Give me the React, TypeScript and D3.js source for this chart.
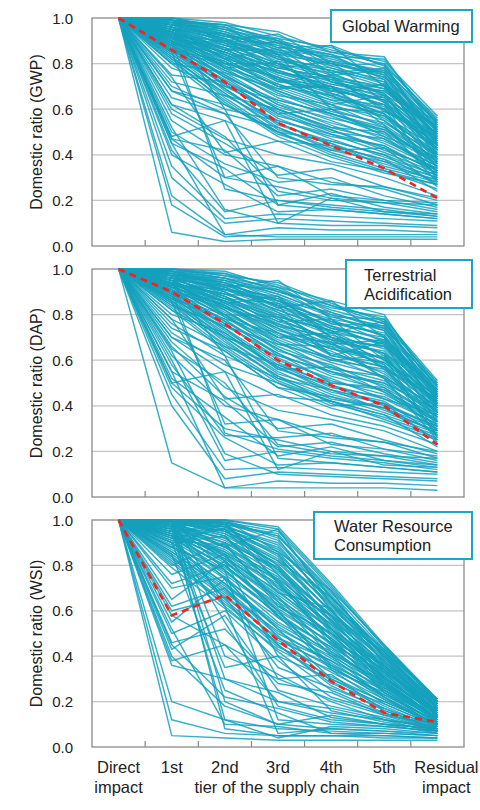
import * as d3 from 'd3';

const tiers = ['Direct impact', '1st', '2nd', '3rd', '4th', '5th', 'Residual impact'];
const yTicks = [0, 0.2, 0.4, 0.6, 0.8, 1.0];

// mean curves (red dashed)
const meanGWP = [1, 0.86, 0.72, 0.54, 0.44, 0.34, 0.21];
const meanDAP = [1, 0.9, 0.76, 0.6, 0.49, 0.4, 0.23];
const meanWSI = [1, 0.58, 0.67, 0.47, 0.29, 0.15, 0.11];

// individual sectors
const linesGWP = [
  [1, 1.0, 0.98, 0.92, 0.86, 0.81, 0.57],
  [1, 0.99, 0.97, 0.9, 0.85, 0.8, 0.55],
  [1, 0.99, 0.95, 0.89, 0.84, 0.78, 0.54],
  [1, 0.98, 0.94, 0.88, 0.82, 0.76, 0.52],
  [1, 0.98, 0.93, 0.86, 0.8, 0.75, 0.51],
  [1, 0.97, 0.92, 0.85, 0.79, 0.72, 0.5],
  [1, 0.97, 0.91, 0.83, 0.77, 0.7, 0.48],
  [1, 0.96, 0.9, 0.82, 0.75, 0.69, 0.47],
  [1, 0.96, 0.88, 0.8, 0.74, 0.67, 0.46],
  [1, 0.95, 0.87, 0.79, 0.72, 0.65, 0.45],
  [1, 0.95, 0.86, 0.77, 0.7, 0.64, 0.44],
  [1, 0.94, 0.85, 0.76, 0.69, 0.62, 0.43],
  [1, 0.94, 0.84, 0.74, 0.67, 0.6, 0.42],
  [1, 0.93, 0.83, 0.73, 0.66, 0.58, 0.41],
  [1, 0.93, 0.82, 0.71, 0.64, 0.57, 0.4],
  [1, 0.92, 0.81, 0.7, 0.62, 0.55, 0.39],
  [1, 0.92, 0.8, 0.68, 0.6, 0.53, 0.38],
  [1, 0.91, 0.79, 0.67, 0.58, 0.51, 0.37],
  [1, 0.9, 0.78, 0.65, 0.57, 0.49, 0.36],
  [1, 0.9, 0.76, 0.63, 0.55, 0.47, 0.35],
  [1, 0.89, 0.75, 0.62, 0.53, 0.45, 0.34],
  [1, 0.88, 0.74, 0.6, 0.51, 0.43, 0.33],
  [1, 0.87, 0.72, 0.58, 0.49, 0.41, 0.32],
  [1, 0.86, 0.71, 0.56, 0.47, 0.39, 0.31],
  [1, 0.85, 0.69, 0.54, 0.45, 0.37, 0.3],
  [1, 0.84, 0.67, 0.52, 0.43, 0.36, 0.29],
  [1, 0.83, 0.65, 0.5, 0.41, 0.34, 0.28],
  [1, 0.82, 0.63, 0.48, 0.39, 0.32, 0.27],
  [1, 0.99, 0.9, 0.93, 0.8, 0.74, 0.53],
  [1, 0.97, 0.96, 0.84, 0.88, 0.7, 0.49],
  [1, 0.92, 0.86, 0.9, 0.76, 0.78, 0.46],
  [1, 0.96, 0.82, 0.87, 0.72, 0.68, 0.52],
  [1, 0.88, 0.9, 0.78, 0.81, 0.63, 0.44],
  [1, 0.94, 0.78, 0.81, 0.66, 0.71, 0.42],
  [1, 0.91, 0.87, 0.72, 0.75, 0.59, 0.5],
  [1, 0.85, 0.8, 0.74, 0.62, 0.66, 0.4],
  [1, 0.8, 0.76, 0.69, 0.7, 0.55, 0.37],
  [1, 0.78, 0.7, 0.64, 0.58, 0.52, 0.35],
  [1, 0.75, 0.72, 0.58, 0.6, 0.48, 0.33],
  [1, 0.72, 0.66, 0.6, 0.52, 0.5, 0.31],
  [1, 0.7, 0.6, 0.55, 0.49, 0.44, 0.29],
  [1, 0.68, 0.62, 0.5, 0.46, 0.4, 0.27],
  [1, 0.65, 0.58, 0.52, 0.42, 0.43, 0.26],
  [1, 0.62, 0.55, 0.46, 0.44, 0.38, 0.24],
  [1, 0.6, 0.47, 0.4, 0.36, 0.3, 0.22],
  [1, 0.58, 0.45, 0.31, 0.34, 0.26, 0.2],
  [1, 0.55, 0.4, 0.35, 0.28, 0.25, 0.18],
  [1, 0.5, 0.36, 0.28, 0.3, 0.22, 0.17],
  [1, 0.47, 0.42, 0.22, 0.25, 0.2, 0.16],
  [1, 0.47, 0.3, 0.26, 0.21, 0.19, 0.15],
  [1, 0.45, 0.34, 0.18, 0.23, 0.17, 0.14],
  [1, 0.42, 0.15, 0.2, 0.18, 0.16, 0.13],
  [1, 0.4, 0.27, 0.15, 0.16, 0.14, 0.12],
  [1, 0.35, 0.12, 0.14, 0.13, 0.12, 0.11],
  [1, 0.3, 0.1, 0.12, 0.11, 0.1, 0.09],
  [1, 0.22, 0.05, 0.08, 0.07, 0.07, 0.06],
  [1, 0.18, 0.04, 0.05, 0.05, 0.05, 0.05],
  [1, 0.06, 0.02, 0.03, 0.03, 0.03, 0.03],
  [1, 0.52, 0.16, 0.1, 0.09, 0.09, 0.08],
  [1, 0.45, 0.05, 0.04, 0.04, 0.04, 0.04],
  [1, 0.48, 0.55, 0.1, 0.21, 0.15, 0.14],
  [1, 0.62, 0.48, 0.24, 0.2, 0.19, 0.18],
  [1, 0.68, 0.58, 0.3, 0.27, 0.26, 0.21],
  [1, 0.74, 0.41, 0.46, 0.37, 0.33, 0.25],
  [1, 0.9, 0.25, 0.2, 0.17, 0.15, 0.13],
  [1, 0.85, 0.3, 0.35, 0.22, 0.2, 0.19],
  [1, 0.95, 0.6, 0.18, 0.16, 0.14, 0.12],
  [1, 0.99, 0.96, 0.91, 0.87, 0.79, 0.56],
  [1, 0.98, 0.97, 0.89, 0.83, 0.82, 0.53],
  [1, 1.0, 0.95, 0.9, 0.81, 0.77, 0.55],
  [1, 0.97, 0.93, 0.87, 0.84, 0.73, 0.5],
  [1, 0.99, 0.94, 0.84, 0.8, 0.76, 0.54],
  [1, 0.96, 0.92, 0.88, 0.78, 0.71, 0.49],
  [1, 0.98, 0.89, 0.85, 0.81, 0.74, 0.51],
  [1, 0.95, 0.91, 0.81, 0.77, 0.72, 0.48],
  [1, 0.97, 0.88, 0.83, 0.73, 0.69, 0.52],
  [1, 0.94, 0.89, 0.8, 0.76, 0.66, 0.47],
  [1, 0.96, 0.86, 0.78, 0.74, 0.7, 0.45],
  [1, 0.93, 0.87, 0.79, 0.71, 0.68, 0.49],
  [1, 0.95, 0.84, 0.76, 0.73, 0.63, 0.44],
  [1, 0.92, 0.85, 0.75, 0.68, 0.65, 0.46],
  [1, 0.94, 0.82, 0.77, 0.7, 0.61, 0.43],
  [1, 0.91, 0.83, 0.72, 0.69, 0.62, 0.42],
  [1, 0.93, 0.8, 0.74, 0.65, 0.6, 0.45],
  [1, 0.9, 0.82, 0.7, 0.66, 0.56, 0.41],
  [1, 0.92, 0.78, 0.71, 0.63, 0.58, 0.39],
  [1, 0.89, 0.79, 0.69, 0.61, 0.57, 0.43],
  [1, 0.91, 0.77, 0.66, 0.62, 0.52, 0.38],
  [1, 0.88, 0.77, 0.68, 0.59, 0.54, 0.4],
  [1, 0.9, 0.74, 0.64, 0.58, 0.5, 0.37],
  [1, 0.87, 0.75, 0.62, 0.56, 0.51, 0.36],
  [1, 0.89, 0.72, 0.61, 0.54, 0.48, 0.39],
  [1, 0.86, 0.73, 0.6, 0.52, 0.46, 0.35],
  [1, 0.88, 0.7, 0.59, 0.5, 0.47, 0.33],
  [1, 0.85, 0.71, 0.57, 0.51, 0.42, 0.34],
  [1, 0.87, 0.68, 0.55, 0.48, 0.44, 0.32],
  [1, 0.84, 0.69, 0.53, 0.46, 0.4, 0.31],
  [1, 0.83, 0.66, 0.54, 0.44, 0.38, 0.3],
  [1, 0.82, 0.67, 0.51, 0.45, 0.35, 0.29],
  [1, 0.81, 0.64, 0.49, 0.42, 0.37, 0.28],
  [1, 0.8, 0.62, 0.5, 0.4, 0.33, 0.27],
  [1, 0.99, 0.97, 0.94, 0.85, 0.83, 0.5],
  [1, 1.0, 0.96, 0.87, 0.88, 0.79, 0.47],
  [1, 0.98, 0.92, 0.91, 0.79, 0.8, 0.44],
  [1, 0.97, 0.95, 0.86, 0.83, 0.75, 0.42],
  [1, 0.96, 0.9, 0.89, 0.75, 0.77, 0.4],
  [1, 0.95, 0.93, 0.82, 0.78, 0.73, 0.38],
  [1, 0.93, 0.88, 0.84, 0.72, 0.67, 0.36],
  [1, 0.94, 0.86, 0.86, 0.68, 0.64, 0.34],
  [1, 0.91, 0.85, 0.78, 0.74, 0.6, 0.32],
  [1, 0.9, 0.8, 0.8, 0.67, 0.58, 0.3],
  [1, 0.89, 0.84, 0.73, 0.64, 0.62, 0.29],
  [1, 0.86, 0.81, 0.7, 0.7, 0.53, 0.28],
  [1, 0.97, 0.91, 0.76, 0.71, 0.66, 0.55],
  [1, 0.95, 0.89, 0.73, 0.7, 0.64, 0.53],
  [1, 0.99, 0.93, 0.8, 0.68, 0.71, 0.51],
  [1, 0.92, 0.9, 0.84, 0.6, 0.59, 0.48],
];

const linesDAP = [
  [1, 1.0, 0.98, 0.93, 0.84, 0.78, 0.51],
  [1, 1.0, 0.97, 0.91, 0.82, 0.76, 0.5],
  [1, 0.99, 0.96, 0.89, 0.8, 0.75, 0.48],
  [1, 0.99, 0.95, 0.88, 0.79, 0.73, 0.47],
  [1, 0.98, 0.94, 0.86, 0.77, 0.71, 0.46],
  [1, 0.98, 0.92, 0.84, 0.75, 0.69, 0.45],
  [1, 0.97, 0.91, 0.82, 0.73, 0.67, 0.44],
  [1, 0.97, 0.9, 0.8, 0.71, 0.65, 0.43],
  [1, 0.96, 0.88, 0.78, 0.69, 0.63, 0.42],
  [1, 0.96, 0.87, 0.76, 0.67, 0.61, 0.41],
  [1, 0.95, 0.86, 0.74, 0.65, 0.59, 0.4],
  [1, 0.95, 0.84, 0.72, 0.63, 0.57, 0.39],
  [1, 0.94, 0.83, 0.7, 0.61, 0.55, 0.38],
  [1, 0.94, 0.82, 0.68, 0.59, 0.53, 0.37],
  [1, 0.93, 0.8, 0.66, 0.57, 0.51, 0.36],
  [1, 0.92, 0.79, 0.65, 0.55, 0.49, 0.35],
  [1, 0.91, 0.77, 0.63, 0.53, 0.47, 0.34],
  [1, 0.9, 0.76, 0.61, 0.51, 0.45, 0.33],
  [1, 0.89, 0.74, 0.59, 0.49, 0.43, 0.32],
  [1, 0.88, 0.72, 0.57, 0.47, 0.41, 0.31],
  [1, 0.87, 0.7, 0.55, 0.45, 0.39, 0.3],
  [1, 0.86, 0.68, 0.53, 0.44, 0.37, 0.29],
  [1, 0.85, 0.66, 0.51, 0.42, 0.36, 0.28],
  [1, 0.99, 0.92, 0.95, 0.78, 0.74, 0.49],
  [1, 0.96, 0.95, 0.83, 0.86, 0.7, 0.46],
  [1, 0.93, 0.89, 0.87, 0.72, 0.77, 0.44],
  [1, 0.97, 0.85, 0.88, 0.7, 0.66, 0.47],
  [1, 0.9, 0.86, 0.77, 0.78, 0.6, 0.41],
  [1, 0.95, 0.8, 0.79, 0.62, 0.68, 0.4],
  [1, 0.92, 0.84, 0.7, 0.72, 0.56, 0.43],
  [1, 0.87, 0.78, 0.72, 0.6, 0.62, 0.37],
  [1, 0.84, 0.75, 0.67, 0.66, 0.52, 0.35],
  [1, 0.82, 0.7, 0.62, 0.55, 0.5, 0.33],
  [1, 0.8, 0.72, 0.56, 0.57, 0.46, 0.31],
  [1, 0.78, 0.66, 0.58, 0.5, 0.48, 0.29],
  [1, 0.76, 0.62, 0.52, 0.47, 0.42, 0.27],
  [1, 0.74, 0.64, 0.48, 0.44, 0.39, 0.25],
  [1, 0.72, 0.58, 0.5, 0.4, 0.41, 0.24],
  [1, 0.7, 0.55, 0.44, 0.42, 0.36, 0.22],
  [1, 0.68, 0.48, 0.38, 0.34, 0.29, 0.2],
  [1, 0.66, 0.44, 0.3, 0.32, 0.25, 0.19],
  [1, 0.62, 0.4, 0.34, 0.27, 0.24, 0.17],
  [1, 0.58, 0.27, 0.26, 0.28, 0.21, 0.16],
  [1, 0.55, 0.42, 0.22, 0.24, 0.19, 0.15],
  [1, 0.5, 0.3, 0.25, 0.2, 0.18, 0.14],
  [1, 0.52, 0.35, 0.18, 0.22, 0.16, 0.13],
  [1, 0.6, 0.16, 0.2, 0.17, 0.15, 0.12],
  [1, 0.48, 0.26, 0.14, 0.15, 0.13, 0.11],
  [1, 0.45, 0.12, 0.13, 0.12, 0.11, 0.1],
  [1, 0.4, 0.08, 0.11, 0.1, 0.09, 0.08],
  [1, 0.15, 0.04, 0.07, 0.06, 0.06, 0.05],
  [1, 0.55, 0.04, 0.04, 0.04, 0.04, 0.03],
  [1, 0.64, 0.19, 0.1, 0.09, 0.08, 0.07],
  [1, 0.5, 0.55, 0.12, 0.2, 0.14, 0.13],
  [1, 0.65, 0.5, 0.23, 0.19, 0.18, 0.17],
  [1, 0.7, 0.6, 0.29, 0.26, 0.24, 0.2],
  [1, 0.78, 0.43, 0.45, 0.36, 0.31, 0.23],
  [1, 0.9, 0.28, 0.21, 0.18, 0.16, 0.14],
  [1, 0.86, 0.32, 0.34, 0.23, 0.21, 0.18],
  [1, 0.94, 0.62, 0.17, 0.15, 0.13, 0.11],
  [1, 1.0, 0.97, 0.94, 0.85, 0.77, 0.5],
  [1, 0.99, 0.98, 0.9, 0.83, 0.79, 0.48],
  [1, 1.0, 0.96, 0.92, 0.81, 0.74, 0.49],
  [1, 0.98, 0.95, 0.89, 0.8, 0.7, 0.46],
  [1, 0.99, 0.93, 0.87, 0.76, 0.72, 0.47],
  [1, 0.97, 0.94, 0.85, 0.78, 0.68, 0.44],
  [1, 0.98, 0.91, 0.86, 0.74, 0.7, 0.45],
  [1, 0.96, 0.92, 0.83, 0.75, 0.66, 0.43],
  [1, 0.97, 0.89, 0.81, 0.72, 0.68, 0.46],
  [1, 0.95, 0.9, 0.79, 0.73, 0.62, 0.42],
  [1, 0.96, 0.87, 0.8, 0.68, 0.64, 0.41],
  [1, 0.94, 0.88, 0.77, 0.7, 0.6, 0.44],
  [1, 0.95, 0.85, 0.75, 0.66, 0.61, 0.4],
  [1, 0.93, 0.86, 0.73, 0.67, 0.58, 0.39],
  [1, 0.94, 0.83, 0.74, 0.62, 0.59, 0.42],
  [1, 0.92, 0.84, 0.71, 0.64, 0.54, 0.38],
  [1, 0.93, 0.81, 0.69, 0.6, 0.56, 0.37],
  [1, 0.91, 0.82, 0.67, 0.61, 0.52, 0.4],
  [1, 0.92, 0.79, 0.68, 0.56, 0.53, 0.36],
  [1, 0.9, 0.8, 0.64, 0.58, 0.48, 0.35],
  [1, 0.91, 0.77, 0.65, 0.54, 0.5, 0.38],
  [1, 0.89, 0.78, 0.62, 0.55, 0.46, 0.34],
  [1, 0.9, 0.75, 0.63, 0.5, 0.47, 0.33],
  [1, 0.88, 0.76, 0.6, 0.52, 0.43, 0.36],
  [1, 0.89, 0.73, 0.58, 0.48, 0.44, 0.32],
  [1, 0.87, 0.74, 0.56, 0.49, 0.4, 0.31],
  [1, 0.88, 0.71, 0.57, 0.46, 0.41, 0.3],
  [1, 0.86, 0.7, 0.54, 0.47, 0.38, 0.29],
  [1, 0.85, 0.69, 0.52, 0.43, 0.39, 0.28],
  [1, 0.84, 0.67, 0.53, 0.41, 0.35, 0.27],
  [1, 0.83, 0.65, 0.5, 0.42, 0.34, 0.26],
  [1, 0.82, 0.64, 0.48, 0.39, 0.33, 0.25],
  [1, 1.0, 0.99, 0.92, 0.86, 0.8, 0.45],
  [1, 0.99, 0.96, 0.9, 0.84, 0.76, 0.43],
  [1, 0.98, 0.93, 0.91, 0.79, 0.78, 0.41],
  [1, 0.97, 0.96, 0.86, 0.81, 0.73, 0.39],
  [1, 0.96, 0.91, 0.88, 0.76, 0.75, 0.37],
  [1, 0.95, 0.93, 0.84, 0.77, 0.71, 0.35],
  [1, 0.94, 0.89, 0.82, 0.74, 0.67, 0.33],
  [1, 0.93, 0.87, 0.85, 0.7, 0.63, 0.31],
  [1, 0.92, 0.86, 0.79, 0.73, 0.58, 0.29],
  [1, 0.9, 0.83, 0.76, 0.69, 0.57, 0.27],
  [1, 0.89, 0.85, 0.72, 0.65, 0.61, 0.26],
  [1, 0.87, 0.8, 0.7, 0.68, 0.52, 0.25],
  [1, 0.98, 0.9, 0.78, 0.69, 0.66, 0.49],
  [1, 0.96, 0.88, 0.75, 0.7, 0.63, 0.47],
  [1, 0.99, 0.94, 0.81, 0.67, 0.69, 0.45],
  [1, 0.93, 0.91, 0.84, 0.62, 0.57, 0.43],
];

const linesWSI = [
  [1, 1.0, 1.0, 0.97, 0.72, 0.45, 0.21],
  [1, 1.0, 0.99, 0.95, 0.7, 0.44, 0.2],
  [1, 1.0, 0.98, 0.93, 0.68, 0.43, 0.2],
  [1, 1.0, 0.97, 0.9, 0.66, 0.42, 0.19],
  [1, 1.0, 0.96, 0.88, 0.64, 0.41, 0.19],
  [1, 0.99, 0.95, 0.85, 0.62, 0.4, 0.18],
  [1, 0.99, 0.94, 0.82, 0.6, 0.39, 0.18],
  [1, 0.98, 0.92, 0.79, 0.58, 0.38, 0.17],
  [1, 0.98, 0.9, 0.76, 0.56, 0.37, 0.17],
  [1, 0.97, 0.88, 0.73, 0.54, 0.36, 0.16],
  [1, 0.96, 0.86, 0.7, 0.52, 0.35, 0.16],
  [1, 0.95, 0.84, 0.67, 0.5, 0.34, 0.15],
  [1, 0.94, 0.82, 0.64, 0.48, 0.32, 0.15],
  [1, 0.93, 0.8, 0.61, 0.46, 0.31, 0.14],
  [1, 0.92, 0.78, 0.58, 0.44, 0.3, 0.14],
  [1, 0.9, 0.75, 0.55, 0.42, 0.28, 0.13],
  [1, 0.88, 0.72, 0.52, 0.4, 0.27, 0.13],
  [1, 0.86, 0.7, 0.5, 0.38, 0.26, 0.12],
  [1, 0.84, 0.67, 0.47, 0.36, 0.25, 0.12],
  [1, 0.82, 0.64, 0.44, 0.34, 0.24, 0.11],
  [1, 1.0, 0.88, 0.96, 0.63, 0.4, 0.2],
  [1, 0.97, 1.0, 0.86, 0.69, 0.36, 0.18],
  [1, 0.95, 0.98, 0.78, 0.58, 0.42, 0.17],
  [1, 0.92, 0.96, 0.8, 0.52, 0.33, 0.16],
  [1, 0.9, 0.93, 0.68, 0.61, 0.3, 0.15],
  [1, 0.88, 0.99, 0.72, 0.47, 0.34, 0.14],
  [1, 0.8, 0.9, 0.62, 0.5, 0.28, 0.13],
  [1, 0.76, 0.85, 0.57, 0.41, 0.29, 0.12],
  [1, 0.72, 0.8, 0.6, 0.35, 0.23, 0.11],
  [1, 0.7, 0.75, 0.48, 0.38, 0.22, 0.1],
  [1, 0.65, 0.82, 0.4, 0.3, 0.2, 0.1],
  [1, 0.62, 0.7, 0.45, 0.28, 0.19, 0.09],
  [1, 0.6, 0.66, 0.35, 0.26, 0.17, 0.09],
  [1, 0.55, 0.74, 0.3, 0.32, 0.16, 0.08],
  [1, 0.5, 0.6, 0.38, 0.22, 0.15, 0.08],
  [1, 0.46, 0.52, 0.28, 0.24, 0.14, 0.07],
  [1, 0.43, 0.58, 0.25, 0.18, 0.13, 0.07],
  [1, 0.38, 0.45, 0.32, 0.2, 0.12, 0.06],
  [1, 1.0, 0.4, 0.3, 0.21, 0.14, 0.1],
  [1, 0.98, 0.3, 0.2, 0.17, 0.12, 0.09],
  [1, 1.0, 0.2, 0.1, 0.14, 0.1, 0.08],
  [1, 0.96, 0.12, 0.04, 0.09, 0.08, 0.06],
  [1, 0.94, 0.55, 0.18, 0.12, 0.1, 0.08],
  [1, 1.0, 0.62, 0.06, 0.08, 0.07, 0.05],
  [1, 0.9, 0.35, 0.4, 0.16, 0.11, 0.07],
  [1, 0.99, 0.08, 0.05, 0.05, 0.05, 0.04],
  [1, 0.85, 0.25, 0.15, 0.06, 0.06, 0.05],
  [1, 1.0, 0.78, 0.12, 0.1, 0.09, 0.07],
  [1, 0.45, 0.22, 0.17, 0.11, 0.09, 0.07],
  [1, 0.4, 0.18, 0.1, 0.08, 0.07, 0.06],
  [1, 0.36, 0.3, 0.24, 0.13, 0.1, 0.06],
  [1, 0.2, 0.12, 0.08, 0.07, 0.06, 0.05],
  [1, 0.12, 0.06, 0.05, 0.05, 0.04, 0.04],
  [1, 0.05, 0.04, 0.03, 0.03, 0.03, 0.03],
  [1, 0.52, 0.1, 0.09, 0.06, 0.05, 0.04],
  [1, 0.58, 0.45, 0.2, 0.15, 0.12, 0.08],
  [1, 1.0, 1.0, 0.96, 0.71, 0.44, 0.21],
  [1, 1.0, 0.99, 0.93, 0.69, 0.45, 0.2],
  [1, 1.0, 0.98, 0.94, 0.66, 0.42, 0.21],
  [1, 1.0, 0.99, 0.91, 0.67, 0.4, 0.19],
  [1, 1.0, 0.97, 0.89, 0.63, 0.43, 0.2],
  [1, 1.0, 0.98, 0.87, 0.65, 0.39, 0.18],
  [1, 0.99, 0.96, 0.86, 0.61, 0.41, 0.19],
  [1, 1.0, 0.95, 0.83, 0.63, 0.37, 0.17],
  [1, 0.99, 0.97, 0.84, 0.59, 0.38, 0.18],
  [1, 0.98, 0.93, 0.81, 0.6, 0.35, 0.16],
  [1, 1.0, 0.94, 0.8, 0.57, 0.36, 0.17],
  [1, 0.97, 0.92, 0.77, 0.58, 0.34, 0.16],
  [1, 0.99, 0.91, 0.78, 0.55, 0.35, 0.15],
  [1, 0.96, 0.89, 0.74, 0.56, 0.32, 0.15],
  [1, 0.98, 0.88, 0.75, 0.53, 0.33, 0.16],
  [1, 0.95, 0.87, 0.71, 0.54, 0.31, 0.14],
  [1, 0.97, 0.85, 0.72, 0.51, 0.3, 0.15],
  [1, 0.94, 0.85, 0.68, 0.52, 0.29, 0.13],
  [1, 0.96, 0.83, 0.69, 0.49, 0.31, 0.14],
  [1, 0.93, 0.83, 0.65, 0.5, 0.28, 0.13],
  [1, 0.95, 0.81, 0.66, 0.47, 0.29, 0.12],
  [1, 0.92, 0.8, 0.62, 0.48, 0.27, 0.14],
  [1, 0.94, 0.79, 0.63, 0.45, 0.28, 0.12],
  [1, 0.91, 0.77, 0.6, 0.46, 0.26, 0.13],
  [1, 0.93, 0.76, 0.59, 0.43, 0.27, 0.11],
  [1, 0.9, 0.74, 0.57, 0.44, 0.25, 0.12],
  [1, 0.89, 0.72, 0.54, 0.41, 0.24, 0.11],
  [1, 0.87, 0.71, 0.53, 0.39, 0.25, 0.1],
  [1, 0.85, 0.68, 0.51, 0.37, 0.23, 0.11],
  [1, 0.83, 0.66, 0.48, 0.35, 0.22, 0.1],
  [1, 0.81, 0.63, 0.46, 0.33, 0.21, 0.09],
  [1, 0.79, 0.61, 0.43, 0.31, 0.2, 0.1],
  [1, 1.0, 1.0, 0.92, 0.6, 0.38, 0.15],
  [1, 1.0, 0.97, 0.85, 0.55, 0.34, 0.14],
  [1, 0.99, 0.95, 0.82, 0.66, 0.4, 0.13],
  [1, 0.98, 0.99, 0.76, 0.52, 0.3, 0.12],
  [1, 0.97, 0.9, 0.79, 0.5, 0.36, 0.11],
  [1, 1.0, 0.93, 0.7, 0.58, 0.27, 0.13],
  [1, 0.95, 0.96, 0.73, 0.45, 0.33, 0.1],
  [1, 0.93, 0.86, 0.74, 0.47, 0.24, 0.09],
  [1, 0.99, 0.84, 0.66, 0.42, 0.26, 0.12],
  [1, 0.91, 0.89, 0.64, 0.4, 0.22, 0.08],
  [1, 1.0, 0.82, 0.6, 0.36, 0.21, 0.1],
  [1, 0.88, 0.78, 0.58, 0.34, 0.19, 0.09],
  [1, 0.97, 0.74, 0.52, 0.3, 0.18, 0.08],
  [1, 0.86, 0.69, 0.49, 0.29, 0.17, 0.07],
  [1, 0.93, 0.65, 0.45, 0.27, 0.16, 0.08],
  [1, 0.84, 0.62, 0.42, 0.25, 0.15, 0.07],
];

const panels = [
  { lines: linesGWP, mean: meanGWP, yLabel: 'Domestic ratio (GWP)', legend: ['Global Warming'], top: 18, bottom: 246, box: [331, 10, 141, 32], textX: 342, textY: 22 },
  { lines: linesDAP, mean: meanDAP, yLabel: 'Domestic ratio (DAP)', legend: ['Terrestrial', 'Acidification'], top: 269, bottom: 497, box: [346, 260, 126, 48], textX: 364, textY: 21 },
  { lines: linesWSI, mean: meanWSI, yLabel: 'Domestic ratio (WSI)', legend: ['Water Resource', 'Consumption'], top: 520, bottom: 747, box: [314, 512, 158, 47], textX: 334, textY: 20 },
];

const left = 92;
const right = 464;
const cyan = '#14a1bd';
const font = '"Liberation Sans", Arial, sans-serif';

const App = () => {
  const x = d3.scalePoint<string>().domain(tiers).range([left, right]).padding(0.5);
  const step = x.step();

  return (
    <svg width={480} height={810} style={{ position: 'absolute', left: 0, top: 0, background: '#fff' }} fontFamily={font}>
      {panels.map((p, pi) => {
        const y = d3.scaleLinear().domain([0, 1]).range([p.bottom, p.top]);
        const line = d3.line<number>().x((_, i) => x(tiers[i]) as number).y(d => y(d));
        return (
          <g key={pi}>
            {yTicks.filter(t => t > 0 && t < 1).map(t => (
              <line key={t} x1={left} x2={right} y1={y(t)} y2={y(t)} stroke="#c4c4c4" strokeWidth={1.2} />
            ))}
            <rect x={left} y={p.top} width={right - left} height={p.bottom - p.top} fill="none" stroke="#8a8a8a" strokeWidth={1.3} />
            {tiers.slice(0, -1).map(t => (
              <line key={t} x1={(x(t) as number) + step / 2} x2={(x(t) as number) + step / 2} y1={p.bottom} y2={p.bottom - 6} stroke="#8a8a8a" strokeWidth={1.2} />
            ))}
            {yTicks.map(t => (
              <text key={t} x={73} y={y(t) + 5.5} textAnchor="end" fontSize={15} fill="#222">{t.toFixed(1)}</text>
            ))}
            <text transform={`translate(42,${(p.top + p.bottom) / 2}) rotate(-90)`} textAnchor="middle" fontSize={16} fill="#222">{p.yLabel}</text>
            <g>
              {p.lines.map((l, i) => (
                <path key={i} d={line(l) as string} fill="none" stroke={cyan} strokeWidth={1.45} strokeOpacity={0.85} strokeLinejoin="round" />
              ))}
            </g>
            <path d={line(p.mean) as string} fill="none" stroke="#ff1e1e" strokeWidth={2.6} strokeDasharray="7,5" />
            <rect x={p.box[0]} y={p.box[1]} width={p.box[2]} height={p.box[3]} fill="#fff" stroke="#1aa6c4" strokeWidth={2} />
            {p.legend.map((s, i) => (
              <text key={s} x={p.textX} y={p.box[1] + p.textY + i * 19} fontSize={16.5} fill="#222">{s}</text>
            ))}
          </g>
        );
      })}
      {tiers.map((t, i) => {
        const parts = t.split(' ');
        const cx = (x(t) as number) + (i === tiers.length - 1 ? 9 : 0);
        return parts.map((s, j) => (
          <text key={t + j} x={cx} y={773 + j * 20} textAnchor="middle" fontSize={16.5} fill="#222">{s}</text>
        ));
      })}
      <text x={277} y={793} textAnchor="middle" fontSize={16.5} fill="#222">tier of the supply chain</text>
    </svg>
  );
};

export default App;
